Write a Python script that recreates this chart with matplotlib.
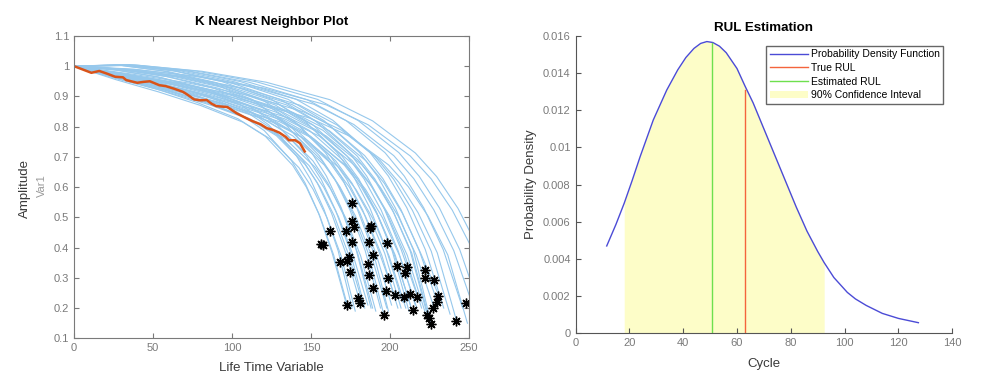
import numpy as np
import matplotlib
matplotlib.use('Agg')
import matplotlib.pyplot as plt
from matplotlib.ticker import FuncFormatter
from matplotlib.patches import Patch
from matplotlib.lines import Line2D

plt.rcParams['font.family'] = ['Liberation Sans', 'DejaVu Sans']

# ---- left panel: degradation paths of the neighbours ----
# amplitude read at fractions of each path's life
LIFE_FRAC = [0, 0.15, 0.3, 0.45, 0.6, 0.7, 0.8, 0.85, 0.9, 0.95, 1.0]
curve_life = [172, 173, 176, 178, 181, 183, 184, 186, 188, 189, 191, 194, 196, 198,
              199, 201, 203, 205, 207, 208, 210, 212, 213, 214, 216, 217, 218, 220,
              222, 224, 225, 226, 228, 230, 231, 234, 238, 242, 246, 249, 253, 257,
              266, 270]
curve_amp = [
    [1.00, 0.972, 0.942, 0.904, 0.848, 0.787, 0.688, 0.614, 0.514, 0.382, 0.22],
    [1.00, 0.962, 0.925, 0.880, 0.826, 0.768, 0.672, 0.600, 0.503, 0.375, 0.21],
    [1.00, 0.988, 0.965, 0.928, 0.872, 0.806, 0.703, 0.627, 0.524, 0.389, 0.20],
    [1.00, 0.955, 0.915, 0.870, 0.815, 0.758, 0.664, 0.593, 0.498, 0.372, 0.19],
    [1.00, 0.974, 0.944, 0.905, 0.850, 0.788, 0.689, 0.615, 0.515, 0.383, 0.22],
    [1.00, 0.964, 0.928, 0.884, 0.829, 0.770, 0.674, 0.601, 0.505, 0.376, 0.21],
    [1.00, 0.986, 0.962, 0.926, 0.870, 0.805, 0.702, 0.626, 0.523, 0.388, 0.20],
    [1.00, 0.960, 0.923, 0.879, 0.825, 0.767, 0.671, 0.599, 0.502, 0.374, 0.21],
    [1.00, 1.004, 0.984, 0.948, 0.890, 0.820, 0.714, 0.636, 0.531, 0.393, 0.20],
    [1.00, 0.970, 0.940, 0.902, 0.846, 0.786, 0.687, 0.613, 0.513, 0.381, 0.20],
    [1.00, 0.956, 0.917, 0.872, 0.817, 0.760, 0.665, 0.594, 0.499, 0.372, 0.19],
    [1.00, 0.990, 0.966, 0.929, 0.873, 0.807, 0.704, 0.628, 0.525, 0.390, 0.20],
    [1.00, 0.972, 0.943, 0.904, 0.848, 0.787, 0.688, 0.614, 0.514, 0.382, 0.18],
    [1.00, 0.963, 0.926, 0.882, 0.828, 0.769, 0.673, 0.601, 0.504, 0.376, 0.20],
    [1.00, 1.002, 0.982, 0.946, 0.888, 0.819, 0.713, 0.635, 0.530, 0.392, 0.19],
    [1.00, 0.975, 0.944, 0.906, 0.850, 0.789, 0.690, 0.615, 0.515, 0.383, 0.21],
    [1.00, 0.987, 0.964, 0.927, 0.871, 0.805, 0.702, 0.626, 0.524, 0.389, 0.24],
    [1.00, 0.961, 0.924, 0.880, 0.826, 0.768, 0.672, 0.600, 0.503, 0.375, 0.20],
    [1.00, 0.971, 0.941, 0.903, 0.847, 0.786, 0.687, 0.613, 0.513, 0.381, 0.20],
    [1.00, 1.005, 0.985, 0.949, 0.891, 0.821, 0.715, 0.637, 0.532, 0.394, 0.22],
    [1.00, 0.954, 0.914, 0.869, 0.814, 0.757, 0.663, 0.592, 0.497, 0.371, 0.20],
    [1.00, 0.989, 0.965, 0.928, 0.872, 0.806, 0.703, 0.627, 0.524, 0.389, 0.19],
    [1.00, 0.973, 0.942, 0.904, 0.848, 0.787, 0.688, 0.614, 0.514, 0.382, 0.21],
    [1.00, 0.962, 0.925, 0.881, 0.827, 0.768, 0.672, 0.600, 0.503, 0.375, 0.19],
    [1.00, 0.988, 0.966, 0.929, 0.873, 0.806, 0.703, 0.627, 0.524, 0.389, 0.21],
    [1.00, 0.956, 0.916, 0.871, 0.816, 0.759, 0.664, 0.593, 0.498, 0.372, 0.20],
    [1.00, 1.003, 0.983, 0.947, 0.889, 0.820, 0.714, 0.636, 0.531, 0.393, 0.23],
    [1.00, 0.972, 0.942, 0.904, 0.848, 0.787, 0.688, 0.614, 0.514, 0.382, 0.20],
    [1.00, 0.961, 0.925, 0.880, 0.826, 0.768, 0.672, 0.600, 0.503, 0.375, 0.19],
    [1.00, 0.988, 0.965, 0.928, 0.872, 0.806, 0.703, 0.627, 0.524, 0.389, 0.17],
    [1.00, 0.973, 0.943, 0.905, 0.849, 0.788, 0.689, 0.614, 0.514, 0.382, 0.16],
    [1.00, 1.004, 0.984, 0.948, 0.890, 0.820, 0.714, 0.636, 0.531, 0.393, 0.15],
    [1.00, 0.962, 0.926, 0.881, 0.827, 0.769, 0.673, 0.600, 0.504, 0.375, 0.20],
    [1.00, 0.989, 0.966, 0.929, 0.873, 0.807, 0.704, 0.628, 0.525, 0.390, 0.22],
    [1.00, 0.972, 0.941, 0.903, 0.847, 0.786, 0.687, 0.613, 0.513, 0.381, 0.24],
    [1.00, 1.005, 0.985, 0.949, 0.891, 0.821, 0.715, 0.637, 0.532, 0.394, 0.20],
    [1.00, 0.988, 0.964, 0.927, 0.871, 0.805, 0.702, 0.626, 0.523, 0.388, 0.18],
    [1.00, 0.974, 0.944, 0.905, 0.849, 0.788, 0.689, 0.615, 0.515, 0.383, 0.16],
    [1.00, 1.003, 0.983, 0.947, 0.889, 0.820, 0.714, 0.636, 0.531, 0.393, 0.20],
    [1.00, 0.963, 0.927, 0.882, 0.828, 0.769, 0.673, 0.601, 0.504, 0.376, 0.15],
    [1.00, 0.990, 0.967, 0.930, 0.874, 0.807, 0.704, 0.628, 0.525, 0.390, 0.20],
    [1.00, 1.004, 0.984, 0.948, 0.890, 0.820, 0.714, 0.636, 0.531, 0.393, 0.20],
    [1.00, 0.988, 0.965, 0.928, 0.872, 0.806, 0.703, 0.627, 0.524, 0.389, 0.20],
    [1.00, 1.003, 0.983, 0.947, 0.889, 0.819, 0.713, 0.635, 0.530, 0.392, 0.20],
]

# test unit (red)
test_x = [0, 5, 11, 16, 21, 26, 31, 33, 40, 44, 48, 54, 58, 63, 69, 72, 76, 80, 84, 87,
          90, 94, 97, 103, 109, 113, 118, 122, 126, 130, 134, 136, 140, 143, 146]
test_y = [1.0, 0.99, 0.978, 0.984, 0.975, 0.965, 0.963, 0.954, 0.945, 0.948,
          0.950, 0.937, 0.934, 0.926, 0.915, 0.905, 0.890, 0.887, 0.888, 0.876,
          0.868, 0.866, 0.865, 0.844, 0.828, 0.818, 0.808, 0.795, 0.789, 0.780,
          0.766, 0.755, 0.755, 0.745, 0.718]

# neighbour end points (asterisks)
star_x = [156.2, 157.9, 162.2, 171.9, 175.9, 175.9, 177.4, 175.9, 187.1, 188.1,
          186.4, 198.1, 168.5, 172.7, 173.8, 174.4, 185.8, 189.0, 186.4, 189.2,
          173.1, 179.7, 180.7, 198.7, 197.6, 195.9, 204.4, 202.9, 210.7, 209.7,
          208.6, 212.4, 217.1, 214.3, 221.9, 221.9, 227.6, 230.4, 229.8, 227.0,
          223.4, 224.4, 226.1, 242.0, 248.3]
star_y = [0.411, 0.407, 0.455, 0.455, 0.548, 0.488, 0.469, 0.419, 0.466, 0.473,
          0.419, 0.414, 0.353, 0.355, 0.370, 0.320, 0.346, 0.375, 0.309, 0.268,
          0.210, 0.234, 0.216, 0.300, 0.257, 0.177, 0.340, 0.243, 0.337, 0.315,
          0.238, 0.245, 0.238, 0.194, 0.326, 0.298, 0.293, 0.241, 0.221, 0.199,
          0.177, 0.166, 0.147, 0.158, 0.218]

# ---- right panel: RUL pdf ----
pdf_cycle = [11.6, 15.0, 18.1, 21.0, 24.0, 28.9, 33.9, 38.0, 41.0, 44.0,
             46.5, 48.8, 51.0, 53.5, 56.0, 60.0, 63.0, 66.0, 70.0, 74.0,
             78.0, 82.0, 86.0, 90.0, 92.4, 96.0, 101.0, 104.0, 108.0, 114.0,
             120.0, 127.4]
pdf_value = [0.00470, 0.00585, 0.00700, 0.00820, 0.00950, 0.01148, 0.01309, 0.01418, 0.01484, 0.01533,
             0.01560, 0.01570, 0.01565, 0.01545, 0.01510, 0.01425, 0.01330, 0.01240, 0.01100, 0.00960,
             0.00820, 0.00680, 0.00550, 0.00440, 0.00380, 0.00300, 0.00220, 0.00185, 0.00150, 0.00107,
             0.00080, 0.00057]
ci_low, ci_high = 18.1, 92.4
true_rul, true_pdf = 63.0, 0.0131
est_rul, est_pdf = 50.6, 0.01562

GRAY = '#7a7a7a'
LABEL = '#3a3a3a'

fig = plt.figure(figsize=(10, 3.78), dpi=100)
ax1 = fig.add_axes([0.074, 0.105, 0.395, 0.8])
ax2 = fig.add_axes([0.5755, 0.1183, 0.3768, 0.7865])

fmt = FuncFormatter(lambda v, p: '%g' % round(v, 6))

# left
for life, amp in zip(curve_life, curve_amp):
    ax1.plot(np.array(LIFE_FRAC) * life, amp, color='#96c8ec', lw=0.8)
ax1.plot(test_x, test_y, color='#d95319', lw=1.8)
ax1.plot(star_x, star_y, ls='none', marker=(8, 2, 0), ms=7, mew=1.0, color='black')
ax1.set_xlim(0, 250)
ax1.set_ylim(0.1, 1.1)
ax1.set_xticks(np.arange(0, 251, 50))
ax1.set_yticks(np.arange(0.1, 1.11, 0.1))
ax1.yaxis.set_major_formatter(fmt)
ax1.tick_params(direction='in', top=True, right=True, length=3.5, colors=GRAY,
                labelsize=8, labelcolor=GRAY)
for s in ax1.spines.values():
    s.set_color(GRAY)
ax1.set_title('K Nearest Neighbor Plot', fontsize=9.6, fontweight='bold', pad=7.5)
ax1.set_xlabel('Life Time Variable', fontsize=9.5, color=LABEL, labelpad=6)
fig.text(0.025, 0.50, 'Amplitude', rotation=90, ha='center', va='center',
         fontsize=9.5, color=LABEL)
fig.text(0.042, 0.51, 'Var1', rotation=90, ha='center', va='center',
         fontsize=8, color='#9a9a9a')

# right
cyc = np.array(pdf_cycle)
val = np.array(pdf_value)
inside = (cyc >= ci_low) & (cyc <= ci_high)
ax2.fill_between(cyc[inside], 0, val[inside], color='#fdfdc8', lw=0)
ax2.plot(cyc, val, color='#4b4bd6', lw=1.0)
ax2.plot([true_rul, true_rul], [0, true_pdf], color='#f4643c', lw=1.0)
ax2.plot([est_rul, est_rul], [0, est_pdf], color='#6ee04e', lw=1.0)
ax2.set_xlim(0, 140)
ax2.set_ylim(0, 0.016)
ax2.set_xticks(np.arange(0, 141, 20))
ax2.set_yticks(np.arange(0, 0.0161, 0.002))
ax2.yaxis.set_major_formatter(fmt)
ax2.spines['top'].set_visible(False)
ax2.spines['right'].set_visible(False)
for s in ('left', 'bottom'):
    ax2.spines[s].set_color('#555555')
ax2.tick_params(direction='in', length=3.5, colors='#555555', labelsize=8,
                labelcolor=GRAY)
ax2.set_title('RUL Estimation', fontsize=9.6, fontweight='bold', pad=3.5)
ax2.set_xlabel('Cycle', fontsize=9.5, color=LABEL, labelpad=7)
ax2.set_ylabel('Probability Density', fontsize=9.5, color=LABEL, labelpad=4)

handles = [Line2D([], [], color='#4b4bd6', lw=1.0),
           Line2D([], [], color='#f4643c', lw=1.0),
           Line2D([], [], color='#6ee04e', lw=1.0),
           Patch(facecolor='#fdfdc8', edgecolor='none')]
labels = ['Probability Density Function', 'True RUL', 'Estimated RUL',
          '90% Confidence Inteval']
leg = ax2.legend(handles, labels, loc='upper right', bbox_to_anchor=(0.976, 0.967),
                 borderaxespad=0, fontsize=7.5, handlelength=3.6, labelspacing=0.35,
                 handletextpad=0.3, borderpad=0.35, fancybox=False, framealpha=1)
leg.get_frame().set_edgecolor('#666666')
leg.get_frame().set_linewidth(1.0)

fig.savefig('out.png', dpi=100)
